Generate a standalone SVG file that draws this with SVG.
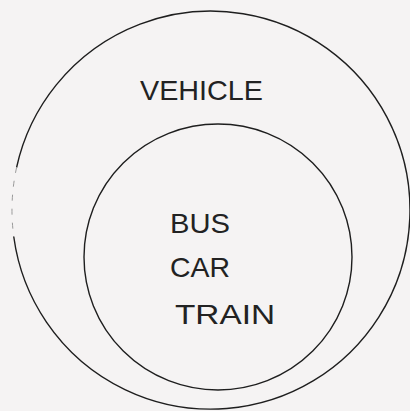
<svg xmlns="http://www.w3.org/2000/svg" width="410" height="411" viewBox="0 0 410 411">
<style>
.ln{fill:none;stroke:#1e1e1e;stroke-width:1.4;stroke-linecap:round}
.faint{fill:none;stroke:#9a9a9a;stroke-width:1;stroke-dasharray:6 8}
.lbl{font-family:"Liberation Sans",Arial,sans-serif;font-size:28px;fill:#222}
</style>
<rect width="410" height="411" fill="#f5f3f3"/>
<g id="vehicle">
<path class="ln" d="M 13.8 237 A 199 199 0 1 0 16.7 167"/>
<path class="faint" d="M 16.7 167 A 199 199 0 0 0 13.8 237"/>
<text class="lbl" x="140" y="100" textLength="123" lengthAdjust="spacingAndGlyphs">VEHICLE</text>
</g>
<g id="subtypes">
<ellipse class="ln" cx="218" cy="257" rx="134" ry="133"/>
<text class="lbl" x="170" y="233" textLength="60" lengthAdjust="spacingAndGlyphs">BUS</text>
<text class="lbl" x="170" y="277" textLength="60" lengthAdjust="spacingAndGlyphs">CAR</text>
<text class="lbl" x="175" y="324" textLength="100" lengthAdjust="spacingAndGlyphs">TRAIN</text>
</g>
<g id="connectors"></g>
</svg>
